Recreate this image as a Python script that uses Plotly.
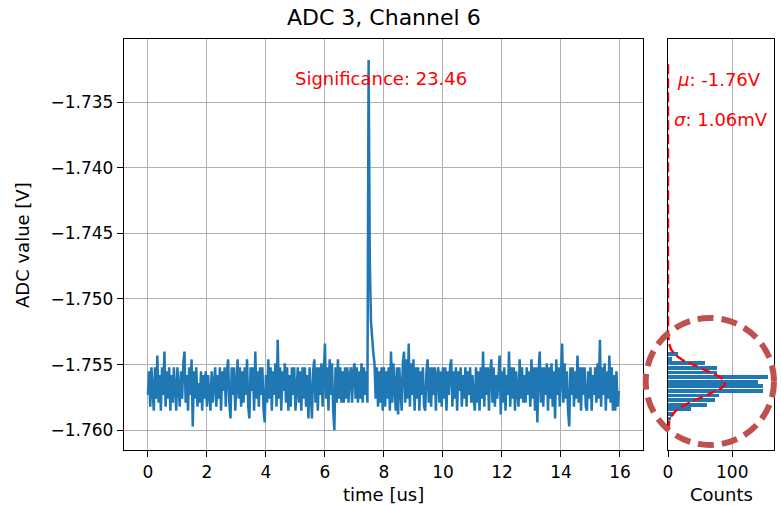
import numpy as np
import plotly.graph_objects as go

# ADC samples (volts), one every SAMPLE_PERIOD_US microseconds
SAMPLE_PERIOD_US = 0.04
adc_volts = [
    -1.7573, -1.7555, -1.7582, -1.7552, -1.7570, -1.7585, -1.7552, -1.7576, -1.7543, -1.7579,
    -1.7558, -1.7585, -1.7552, -1.7573, -1.7540, -1.7582, -1.7555, -1.7576, -1.7552, -1.7585,
    -1.7558, -1.7579, -1.7552, -1.7573, -1.7585, -1.7552, -1.7564, -1.7582, -1.7555, -1.7576,
    -1.7549, -1.7540, -1.7579, -1.7558, -1.7585, -1.7552, -1.7573, -1.7546, -1.7597, -1.7555,
    -1.7576, -1.7552, -1.7582, -1.7564, -1.7579, -1.7555, -1.7585, -1.7558, -1.7576, -1.7555,
    -1.7582, -1.7558, -1.7573, -1.7585, -1.7555, -1.7579, -1.7564, -1.7552, -1.7582, -1.7558,
    -1.7576, -1.7552, -1.7585, -1.7555, -1.7570, -1.7552, -1.7582, -1.7555, -1.7546, -1.7579,
    -1.7591, -1.7552, -1.7573, -1.7552, -1.7585, -1.7558, -1.7546, -1.7576, -1.7552, -1.7582,
    -1.7555, -1.7579, -1.7552, -1.7573, -1.7546, -1.7582, -1.7591, -1.7552, -1.7570, -1.7552,
    -1.7585, -1.7540, -1.7576, -1.7555, -1.7582, -1.7552, -1.7573, -1.7552, -1.7585, -1.7594,
    -1.7558, -1.7579, -1.7546, -1.7576, -1.7552, -1.7585, -1.7555, -1.7573, -1.7549, -1.7582,
    -1.7531, -1.7576, -1.7552, -1.7585, -1.7555, -1.7570, -1.7549, -1.7579, -1.7552, -1.7585,
    -1.7558, -1.7582, -1.7552, -1.7573, -1.7552, -1.7585, -1.7564, -1.7552, -1.7579, -1.7555,
    -1.7585, -1.7552, -1.7576, -1.7552, -1.7582, -1.7558, -1.7591, -1.7552, -1.7573, -1.7591,
    -1.7555, -1.7546, -1.7579, -1.7552, -1.7585, -1.7552, -1.7573, -1.7549, -1.7582, -1.7555,
    -1.7534, -1.7576, -1.7552, -1.7585, -1.7546, -1.7573, -1.7549, -1.7585, -1.7600, -1.7552,
    -1.7579, -1.7546, -1.7576, -1.7552, -1.7579, -1.7555, -1.7579, -1.7552, -1.7576, -1.7552,
    -1.7579, -1.7558, -1.7552, -1.7579, -1.7555, -1.7549, -1.7576, -1.7552, -1.7579, -1.7555,
    -1.7576, -1.7549, -1.7579, -1.7552, -1.7573, -1.7555, -1.7579, -1.7318, -1.7470, -1.7517,
    -1.7532, -1.7541, -1.7549, -1.7576, -1.7552, -1.7582, -1.7555, -1.7579, -1.7552, -1.7585,
    -1.7552, -1.7582, -1.7555, -1.7576, -1.7552, -1.7585, -1.7540, -1.7579, -1.7549, -1.7573,
    -1.7585, -1.7552, -1.7588, -1.7552, -1.7576, -1.7585, -1.7549, -1.7540, -1.7579, -1.7546,
    -1.7576, -1.7534, -1.7582, -1.7549, -1.7573, -1.7546, -1.7585, -1.7552, -1.7576, -1.7552,
    -1.7585, -1.7555, -1.7573, -1.7552, -1.7582, -1.7585, -1.7555, -1.7546, -1.7579, -1.7552,
    -1.7582, -1.7552, -1.7573, -1.7552, -1.7585, -1.7558, -1.7552, -1.7579, -1.7555, -1.7582,
    -1.7552, -1.7576, -1.7552, -1.7585, -1.7555, -1.7573, -1.7552, -1.7546, -1.7582, -1.7555,
    -1.7576, -1.7552, -1.7585, -1.7555, -1.7570, -1.7552, -1.7582, -1.7558, -1.7576, -1.7552,
    -1.7582, -1.7555, -1.7573, -1.7552, -1.7579, -1.7558, -1.7576, -1.7585, -1.7552, -1.7579,
    -1.7555, -1.7585, -1.7552, -1.7576, -1.7540, -1.7582, -1.7552, -1.7573, -1.7552, -1.7585,
    -1.7555, -1.7546, -1.7579, -1.7552, -1.7582, -1.7558, -1.7576, -1.7552, -1.7543, -1.7588,
    -1.7555, -1.7579, -1.7552, -1.7585, -1.7558, -1.7573, -1.7540, -1.7582, -1.7552, -1.7576,
    -1.7552, -1.7585, -1.7555, -1.7570, -1.7582, -1.7546, -1.7576, -1.7552, -1.7579, -1.7558,
    -1.7579, -1.7552, -1.7573, -1.7555, -1.7582, -1.7546, -1.7576, -1.7552, -1.7585, -1.7552,
    -1.7594, -1.7555, -1.7540, -1.7579, -1.7552, -1.7582, -1.7552, -1.7573, -1.7549, -1.7585,
    -1.7552, -1.7576, -1.7549, -1.7582, -1.7555, -1.7591, -1.7546, -1.7573, -1.7552, -1.7582,
    -1.7552, -1.7534, -1.7579, -1.7549, -1.7576, -1.7555, -1.7585, -1.7597, -1.7552, -1.7573,
    -1.7552, -1.7582, -1.7555, -1.7576, -1.7543, -1.7579, -1.7552, -1.7585, -1.7552, -1.7573,
    -1.7552, -1.7582, -1.7585, -1.7555, -1.7576, -1.7552, -1.7585, -1.7558, -1.7573, -1.7552,
    -1.7579, -1.7549, -1.7576, -1.7531, -1.7582, -1.7552, -1.7573, -1.7549, -1.7585, -1.7555,
    -1.7576, -1.7543, -1.7579, -1.7552, -1.7585, -1.7558, -1.7585, -1.7555, -1.7582, -1.7570,
]
time_us = [i * SAMPLE_PERIOD_US for i in range(len(adc_volts))]

# Histogram of the baseline samples
hist_levels = [-1.75420, -1.75455, -1.75490, -1.75525, -1.75560, -1.75595, -1.75630, -1.75665,
               -1.75700, -1.75735, -1.75770, -1.75805, -1.75840, -1.75875, -1.75910]
hist_counts = [16, 6, 58, 77, 77, 155, 140, 148, 148, 79, 73, 61, 36, 9, 5]
HIST_BAR_HEIGHT = 0.00029

# Gaussian fit of the baseline
fit_mu = -1.7564
fit_sigma = 0.00106
fit_peak_counts = 89
significance = 23.46

time_ticks = [0, 2, 4, 6, 8, 10, 12, 14, 16]
volt_ticks = [-1.735, -1.740, -1.745, -1.750, -1.755, -1.760]
volt_ticktext = ["\u22121.735", "\u22121.740", "\u22121.745", "\u22121.750", "\u22121.755", "\u22121.760"]
count_ticks = [0, 100]

BLUE = "#1f77b4"
FONT = "DejaVu Sans"

fit_y = np.linspace(min(adc_volts), max(adc_volts), 400)
fit_x = fit_peak_counts * np.exp(-0.5 * ((fit_y - fit_mu) / fit_sigma) ** 2)

fig = go.Figure()
fig.add_trace(go.Scatter(x=time_us, y=adc_volts, mode="lines",
                         line=dict(color=BLUE, width=2.5), xaxis="x", yaxis="y",
                         showlegend=False, hoverinfo="skip"))
fig.add_trace(go.Bar(x=hist_counts, y=hist_levels, orientation="h", width=HIST_BAR_HEIGHT,
                     marker=dict(color=BLUE, line=dict(width=0)), xaxis="x2", yaxis="y2",
                     showlegend=False))
fig.add_trace(go.Scatter(x=fit_x, y=fit_y, mode="lines",
                         line=dict(color="red", width=2.4, dash="10px,4px"),
                         xaxis="x2", yaxis="y2", showlegend=False))

# plot area in pixels: left 124, right 774, top 39, bottom 450
L, R, T, B = 124, 7, 39, 56
W, H = 781, 506
PW, PH = W - L - R, H - T - B


def px(x):
    return (x - L) / PW


def py(y):
    return (H - B - y) / PH


axis_common = dict(showline=True, mirror=True, linecolor="black", linewidth=1.3,
                   ticks="outside", ticklen=6, tickwidth=1.3, tickcolor="black",
                   gridcolor="#b0b0b0", gridwidth=1.2, zeroline=False,
                   tickfont=dict(family=FONT, size=17, color="black"))

fig.update_layout(
    width=W, height=H,
    margin=dict(l=L, r=R, t=T, b=B),
    paper_bgcolor="white", plot_bgcolor="white",
    bargap=0,
    xaxis=dict(domain=[0, px(643)], range=[-0.81, 16.78], tickvals=time_ticks,
               showgrid=True, **axis_common),
    yaxis=dict(range=[-1.7615, -1.7302], tickvals=volt_ticks, ticktext=volt_ticktext,
               showgrid=True, anchor="x", **axis_common),
    xaxis2=dict(domain=[px(668), 1], range=[0, 165], tickvals=count_ticks,
                showgrid=True, anchor="y2", **axis_common),
    yaxis2=dict(matches="y", anchor="x2", showticklabels=False, ticks="",
                showgrid=False, showline=True, mirror=True, linecolor="black",
                linewidth=1.3, zeroline=False),
)

red_font = dict(family=FONT, size=18, color="red")
black_font = dict(family=FONT, size=18, color="black")
annotations = [
    dict(text="ADC 3, Channel 6", x=px(384), y=py(18),
         font=dict(family=FONT, size=22, color="black")),
    dict(text="time [us]", x=px(383.5), y=py(494), font=black_font),
    dict(text="Counts", x=px(721), y=py(494), font=black_font),
    dict(text="ADC value [V]", x=px(22), y=py(245), textangle=-90, font=black_font),
    dict(text=f"Significance: {significance:.2f}", x=px(381), y=py(78), font=red_font),
    dict(text=f"<i>\u03bc</i>: {fit_mu:.2f}V", x=px(718.5), y=py(79), font=red_font),
    dict(text=f"<i>\u03c3</i>: {fit_sigma * 1000:.2f}mV", x=px(720.5), y=py(120), font=red_font),
]
for a in annotations:
    a.update(xref="paper", yref="paper", showarrow=False, xanchor="center", yanchor="middle")
fig.update_layout(annotations=annotations)

# dashed ring highlighting the histogram
fig.add_shape(type="circle", xref="paper", yref="paper",
              x0=px(645.7), x1=px(774), y0=py(445), y1=py(318),
              line=dict(color="#c0504d", width=6, dash="16px,8px"), layer="above")

fig.write_html("out.html")
